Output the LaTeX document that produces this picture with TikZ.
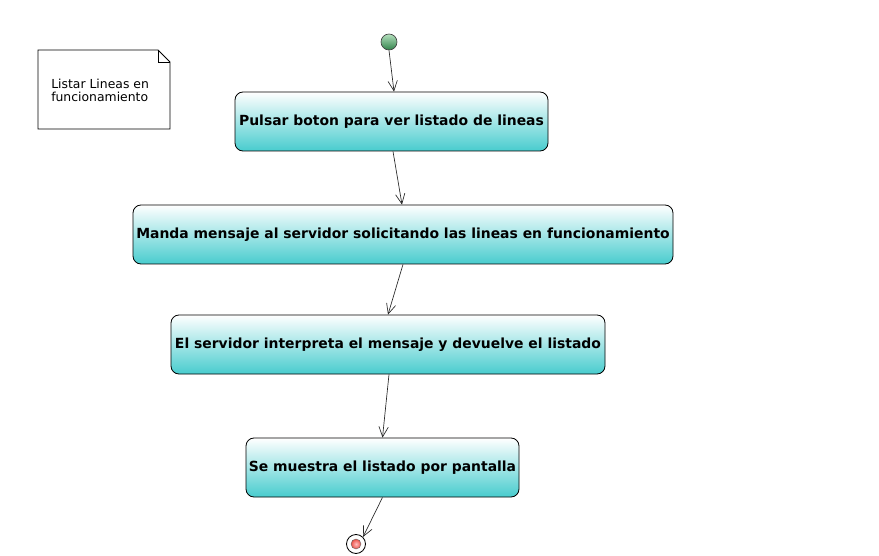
\documentclass[tikz,border=0pt]{standalone}
\usepackage{fontspec}
\setmainfont{DejaVu Sans}
\usetikzlibrary{arrows.meta,shapes.geometric}
\definecolor{actcyan}{RGB}{72,204,206}
\definecolor{edge}{RGB}{40,40,40}
\definecolor{startlight}{RGB}{180,225,190}
\definecolor{startdark}{RGB}{50,130,75}
\definecolor{endred}{RGB}{235,80,70}
\tikzset{
  actbox/.style={draw=black, line width=0.6pt, rounded corners=6pt, top color=white, bottom color=actcyan, minimum height=59*0.75pt, inner sep=0pt, font=\fontsize{10.45pt}{12pt}\selectfont\bfseries},
  flow/.style={draw=edge, line width=0.5pt, -{Straight Barb[length=7.5pt,width=7pt]}},
  notebox/.style={font=\fontsize{9.3pt}{9.9pt}\selectfont, align=left, anchor=north west, inner sep=0pt}
}
\begin{document}
\begin{tikzpicture}[x=0.75pt,y=-0.75pt]
\useasboundingbox (0,0) rectangle (879,556);
\fill[white] (0,0) rectangle (879,556);
% note
\draw[line width=0.6pt, fill=white] (38,50) -- (158,50) -- (170,62) -- (170,129) -- (38,129) -- cycle;
\draw[line width=0.6pt] (158,50) -- (158,62) -- (170,62);
\node[notebox] (note) at (51,79) {Listar Lineas en\\funcionamiento};
% initial
\node[circle, draw=black!75, line width=0.5pt, minimum size=16*0.75pt, inner sep=0pt, top color=startlight, bottom color=startdark] (start) at (389,42) {};
% actions
\node[actbox, minimum width=313*0.75pt] (b1) at (391.5,121.5) {Pulsar boton para ver listado de lineas};
\node[actbox, minimum width=540*0.75pt] (b2) at (403,234.5) {Manda mensaje al servidor solicitando las lineas en funcionamiento};
\node[actbox, minimum width=434*0.75pt] (b3) at (388,344.5) {El servidor interpreta el mensaje y devuelve el listado};
\node[actbox, minimum width=273*0.75pt] (b4) at (382.5,467.5) {Se muestra el listado por pantalla};
% final
\node[circle, draw=black, line width=0.6pt, minimum size=19*0.75pt, inner sep=0pt, fill=white] (end) at (356,544) {};
\node[circle, draw=black!60, line width=0.3pt, minimum size=10*0.75pt, inner sep=0pt, inner color=red!25!white, outer color=endred] (endin) at (end.center) {};
% connectors
\draw[flow] (start.south) -- ([xshift=2.5*0.75pt]b1.north);
\draw[flow] ([xshift=1.5*0.75pt]b1.south) -- ([xshift=-1*0.75pt]b2.north);
\draw[flow] (b2.south) -- (b3.north);
\draw[flow] ([xshift=1*0.75pt]b3.south) -- (b4.north);
\draw[flow] (b4.south) -- (end.north east);
\end{tikzpicture}
\end{document}
